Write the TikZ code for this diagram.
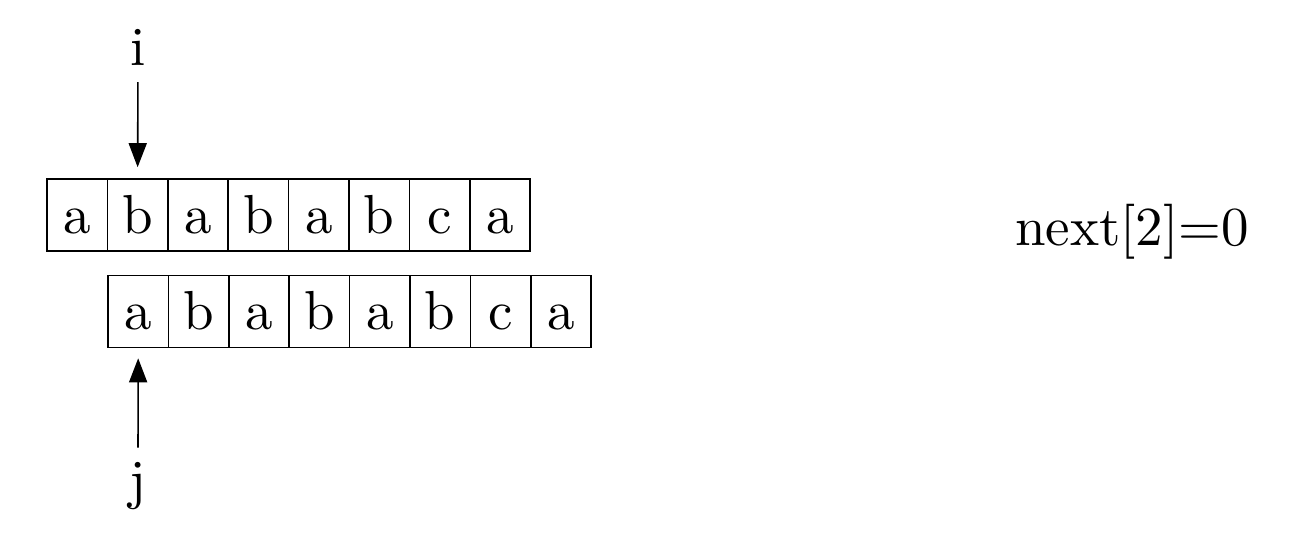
\documentclass[tikz,border=0pt]{standalone}
\usepackage{fontspec}
\newfontfamily\lmten{lmroman10-regular}[Extension=.otf]
\usetikzlibrary{arrows.meta}
\begin{document}
\begin{tikzpicture}[x=1pt,y=-1pt,
  cell/.style={draw,line width=1.6pt,minimum width=60.4pt,minimum height=72pt,inner sep=0pt,
    text height=36pt,text depth=0pt,font=\lmten\fontsize{55}{60}\selectfont},
  lbl/.style={inner sep=0pt,font=\lmten\fontsize{55}{60}\selectfont},
  ptr/.style={line width=1.6pt,-{Triangle[width=18pt,length=24pt]}}]
\useasboundingbox (0,0) rectangle (1296,536);
\foreach \c [count=\k from 0] in {a,b,a,b,a,b,c,a}{
  \node[cell] (t\k) at (47+30.2+60.4*\k,215) {\c};
  \node[cell] (b\k) at (108+30.2+60.4*\k,311.5) {\c};
}
\node[lbl,anchor=base] (i) at (138,65) {i};
\node[lbl,anchor=base] (j) at (138,498) {j};
\draw[ptr,shorten <=17pt,shorten >=11pt] (i.south) -- (t1.north);
\draw[ptr,shorten <=14pt,shorten >=10pt] (j.north) -- (b0.south);
\node[lbl,anchor=base west] (nx) at (1015,245) {next[2]=0};
\end{tikzpicture}
\end{document}
